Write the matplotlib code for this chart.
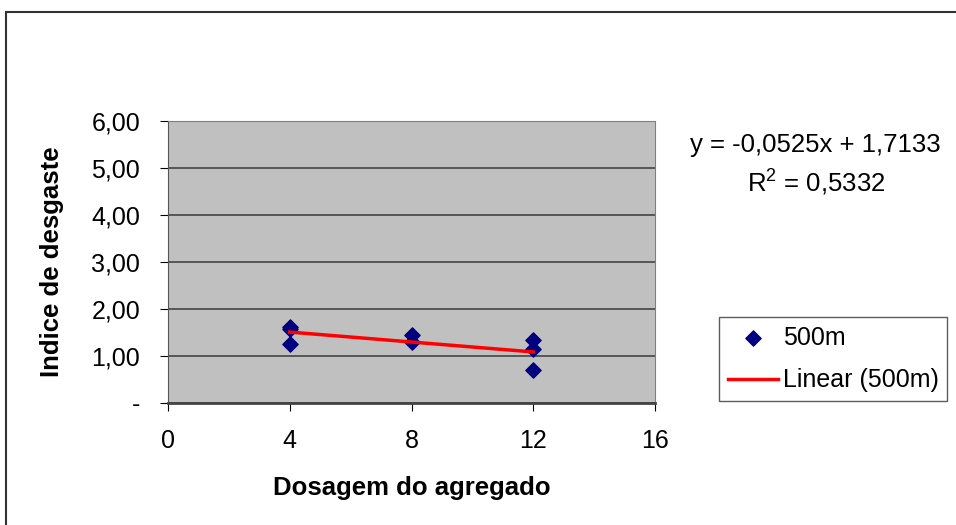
import numpy as np
import matplotlib.pyplot as plt
from matplotlib.patches import Rectangle

# dados (500m)
dosagem = [4, 4, 4, 8, 8, 12, 12, 12]
indice = [1.62, 1.58, 1.25, 1.45, 1.30, 1.33, 1.15, 0.70]
eq_text = "y = -0,0525x + 1,7133"
r2_text = "R$^2$ = 0,5332"
xticks = [0, 4, 8, 12, 16]
yticks = [0, 1, 2, 3, 4, 5, 6]
ylabels = ["-", "1,00", "2,00", "3,00", "4,00", "5,00", "6,00"]

plt.rcParams['font.family'] = ['Liberation Sans', 'DejaVu Sans']
plt.rcParams['mathtext.fontset'] = 'custom'
plt.rcParams['mathtext.rm'] = 'Liberation Sans'

fig = plt.figure(figsize=(9.56, 5.25), dpi=100)
# moldura externa do grafico
fig.patches.append(Rectangle((6/956, -0.1), 1.1, 1 - 12/525 + 0.1, transform=fig.transFigure,
                             fill=False, edgecolor="#333333", linewidth=1.5))

ax = fig.add_axes([168/956, 1 - 403/525, 487/956, 282/525])
ax.set_facecolor("#C0C0C0")

x = np.array(dosagem, dtype=float)
y = np.array(indice)
coef = np.polyfit(x, y, 1)
xl = np.array([x.min(), x.max()])

ax.scatter(x, y, marker="D", s=60, color="#000080", zorder=3, label="500m")
ax.plot(xl, np.polyval(coef, xl), color="#FF0000", lw=2.5, zorder=4, label="Linear (500m)")

ax.set_xlim(0, 16)
ax.set_ylim(0, 6)
ax.set_xticks(xticks)
ax.set_yticks(yticks)
ax.set_yticklabels(ylabels)
ax.yaxis.grid(True, color="#444444", lw=1.2)
ax.set_axisbelow(True)
for s in ["top", "right"]:
    ax.spines[s].set_color("#808080")
ax.spines["bottom"].set_color("#444444")
ax.spines["bottom"].set_linewidth(2)
ax.spines["left"].set_color("#555555")
ax.tick_params(length=6, direction="out")
ax.tick_params(axis="y", labelsize=18, pad=14)
ax.tick_params(axis="x", labelsize=18, pad=13)

ax.set_xlabel("Dosagem do agregado", fontsize=18.5, fontweight="bold", labelpad=16)
ax.set_ylabel("Indice de desgaste", fontsize=18.5, fontweight="bold")
ax.yaxis.set_label_coords((64 - 168)/487, 0.5)

fig.text(815/956, 1 - 145/525, eq_text, fontsize=18.5, ha="center", va="center")
fig.text(816/956, 1 - 182/525, r2_text, fontsize=18.5, ha="center", va="center")

leg = ax.legend(loc="upper left", bbox_to_anchor=(719/956, 1 - 317/525), bbox_transform=fig.transFigure,
                fontsize=18, frameon=True, fancybox=False, edgecolor="#333333", handlelength=2.0,
                borderpad=0.35, labelspacing=0.75, handletextpad=0.2, borderaxespad=0)
leg.get_frame().set_linewidth(1)

fig.savefig("out.png", dpi=100)
